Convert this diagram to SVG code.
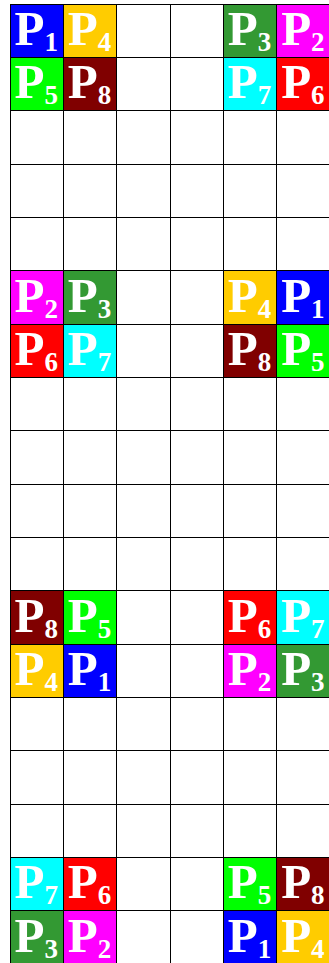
<svg xmlns="http://www.w3.org/2000/svg" width="329" height="963" viewBox="0 0 329 963">
<style>
.p1{fill:#0000FF}.p2{fill:#FF00FF}.p3{fill:#339933}.p4{fill:#FFCC00}
.p5{fill:#00FF00}.p6{fill:#FF0000}.p7{fill:#00FFFF}.p8{fill:#800000}
.t{font-family:"Liberation Serif","Times New Roman",serif;font-weight:700;fill:#FFFFFF;font-size:49px}
.s{font-size:27px}
.grid{stroke:#000;stroke-width:1;fill:none}
</style>
<rect width="329" height="963" fill="#FFFFFF"/>
<g id="cells">
<g id="b1-P1"><rect class="p1" x="10" y="4" width="53.33" height="53.33"/><text class="t" x="14.5" y="45">P<tspan class="s" dy="6">1</tspan></text></g>
<g id="b1-P4"><rect class="p4" x="63.33" y="4" width="53.33" height="53.33"/><text class="t" x="67.83" y="45">P<tspan class="s" dy="6">4</tspan></text></g>
<g id="b1-P3"><rect class="p3" x="223.33" y="4" width="53.33" height="53.33"/><text class="t" x="227.83" y="45">P<tspan class="s" dy="6">3</tspan></text></g>
<g id="b1-P2"><rect class="p2" x="276.67" y="4" width="53.33" height="53.33"/><text class="t" x="281.17" y="45">P<tspan class="s" dy="6">2</tspan></text></g>
<g id="b1-P5"><rect class="p5" x="10" y="57.33" width="53.33" height="53.33"/><text class="t" x="14.5" y="98.33">P<tspan class="s" dy="6">5</tspan></text></g>
<g id="b1-P8"><rect class="p8" x="63.33" y="57.33" width="53.33" height="53.33"/><text class="t" x="67.83" y="98.33">P<tspan class="s" dy="6">8</tspan></text></g>
<g id="b1-P7"><rect class="p7" x="223.33" y="57.33" width="53.33" height="53.33"/><text class="t" x="227.83" y="98.33">P<tspan class="s" dy="6">7</tspan></text></g>
<g id="b1-P6"><rect class="p6" x="276.67" y="57.33" width="53.33" height="53.33"/><text class="t" x="281.17" y="98.33">P<tspan class="s" dy="6">6</tspan></text></g>

<g id="b2-P2"><rect class="p2" x="10" y="270.67" width="53.33" height="53.33"/><text class="t" x="14.5" y="311.67">P<tspan class="s" dy="6">2</tspan></text></g>
<g id="b2-P3"><rect class="p3" x="63.33" y="270.67" width="53.33" height="53.33"/><text class="t" x="67.83" y="311.67">P<tspan class="s" dy="6">3</tspan></text></g>
<g id="b2-P4"><rect class="p4" x="223.33" y="270.67" width="53.33" height="53.33"/><text class="t" x="227.83" y="311.67">P<tspan class="s" dy="6">4</tspan></text></g>
<g id="b2-P1"><rect class="p1" x="276.67" y="270.67" width="53.33" height="53.33"/><text class="t" x="281.17" y="311.67">P<tspan class="s" dy="6">1</tspan></text></g>
<g id="b2-P6"><rect class="p6" x="10" y="324" width="53.33" height="53.33"/><text class="t" x="14.5" y="365">P<tspan class="s" dy="6">6</tspan></text></g>
<g id="b2-P7"><rect class="p7" x="63.33" y="324" width="53.33" height="53.33"/><text class="t" x="67.83" y="365">P<tspan class="s" dy="6">7</tspan></text></g>
<g id="b2-P8"><rect class="p8" x="223.33" y="324" width="53.33" height="53.33"/><text class="t" x="227.83" y="365">P<tspan class="s" dy="6">8</tspan></text></g>
<g id="b2-P5"><rect class="p5" x="276.67" y="324" width="53.33" height="53.33"/><text class="t" x="281.17" y="365">P<tspan class="s" dy="6">5</tspan></text></g>

<g id="b3-P8"><rect class="p8" x="10" y="590.67" width="53.33" height="53.33"/><text class="t" x="14.5" y="631.67">P<tspan class="s" dy="6">8</tspan></text></g>
<g id="b3-P5"><rect class="p5" x="63.33" y="590.67" width="53.33" height="53.33"/><text class="t" x="67.83" y="631.67">P<tspan class="s" dy="6">5</tspan></text></g>
<g id="b3-P6"><rect class="p6" x="223.33" y="590.67" width="53.33" height="53.33"/><text class="t" x="227.83" y="631.67">P<tspan class="s" dy="6">6</tspan></text></g>
<g id="b3-P7"><rect class="p7" x="276.67" y="590.67" width="53.33" height="53.33"/><text class="t" x="281.17" y="631.67">P<tspan class="s" dy="6">7</tspan></text></g>
<g id="b3-P4"><rect class="p4" x="10" y="644" width="53.33" height="53.33"/><text class="t" x="14.5" y="685">P<tspan class="s" dy="6">4</tspan></text></g>
<g id="b3-P1"><rect class="p1" x="63.33" y="644" width="53.33" height="53.33"/><text class="t" x="67.83" y="685">P<tspan class="s" dy="6">1</tspan></text></g>
<g id="b3-P2"><rect class="p2" x="223.33" y="644" width="53.33" height="53.33"/><text class="t" x="227.83" y="685">P<tspan class="s" dy="6">2</tspan></text></g>
<g id="b3-P3"><rect class="p3" x="276.67" y="644" width="53.33" height="53.33"/><text class="t" x="281.17" y="685">P<tspan class="s" dy="6">3</tspan></text></g>

<g id="b4-P7"><rect class="p7" x="10" y="857.33" width="53.33" height="53.33"/><text class="t" x="14.5" y="898.33">P<tspan class="s" dy="6">7</tspan></text></g>
<g id="b4-P6"><rect class="p6" x="63.33" y="857.33" width="53.33" height="53.33"/><text class="t" x="67.83" y="898.33">P<tspan class="s" dy="6">6</tspan></text></g>
<g id="b4-P5"><rect class="p5" x="223.33" y="857.33" width="53.33" height="53.33"/><text class="t" x="227.83" y="898.33">P<tspan class="s" dy="6">5</tspan></text></g>
<g id="b4-P8"><rect class="p8" x="276.67" y="857.33" width="53.33" height="53.33"/><text class="t" x="281.17" y="898.33">P<tspan class="s" dy="6">8</tspan></text></g>
<g id="b4-P3"><rect class="p3" x="10" y="910.67" width="53.33" height="53.33"/><text class="t" x="14.5" y="951.67">P<tspan class="s" dy="6">3</tspan></text></g>
<g id="b4-P2"><rect class="p2" x="63.33" y="910.67" width="53.33" height="53.33"/><text class="t" x="67.83" y="951.67">P<tspan class="s" dy="6">2</tspan></text></g>
<g id="b4-P1"><rect class="p1" x="223.33" y="910.67" width="53.33" height="53.33"/><text class="t" x="227.83" y="951.67">P<tspan class="s" dy="6">1</tspan></text></g>
<g id="b4-P4"><rect class="p4" x="276.67" y="910.67" width="53.33" height="53.33"/><text class="t" x="281.17" y="951.67">P<tspan class="s" dy="6">4</tspan></text></g>
</g>
<g id="grid" class="grid">
<path d="M10.5,4V963M63.5,4V963M116.5,4V963M170.5,4V963M223.5,4V963M276.5,4V963"/>
<path d="M10,4.5H329M10,57.5H329M10,110.5H329M10,164.5H329M10,217.5H329M10,270.5H329M10,324.5H329M10,377.5H329M10,430.5H329M10,484.5H329M10,537.5H329M10,590.5H329M10,644.5H329M10,697.5H329M10,750.5H329M10,804.5H329M10,857.5H329M10,910.5H329"/>
</g>
</svg>
